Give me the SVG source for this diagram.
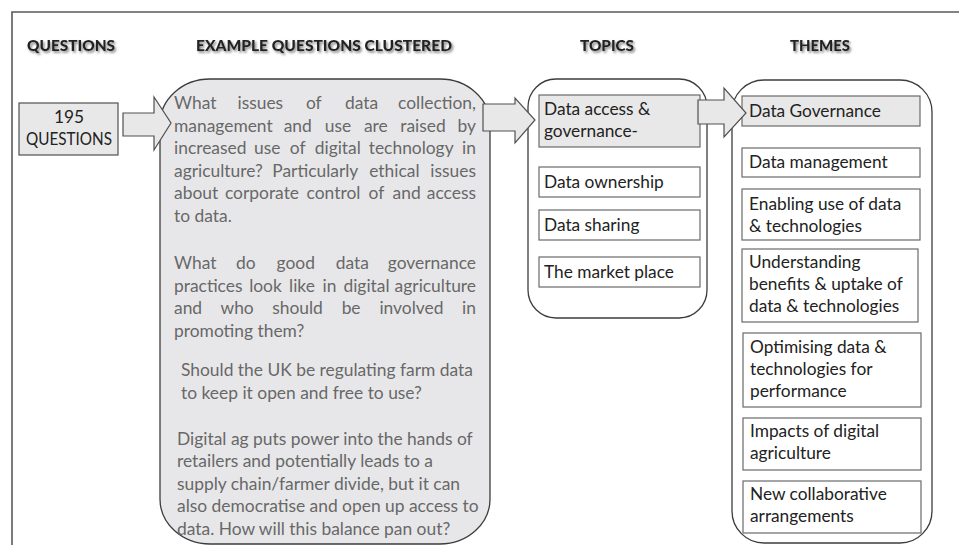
<svg xmlns="http://www.w3.org/2000/svg" width="959" height="545" viewBox="0 0 959 545">
<defs>
<style>
.hdr{font-family:Lato,"Liberation Sans",sans-serif;font-weight:900;font-size:15.8px;fill:#222;filter:url(#sh)}
.q{font-family:Lato,"Liberation Sans",sans-serif;font-size:17.4px;fill:#686868}
.t{font-family:Lato,"Liberation Sans",sans-serif;font-size:17.3px;fill:#222}
.m{text-anchor:middle}
.e{text-anchor:end}
.box{fill:#fff;stroke:#6a6a6a;stroke-width:1.2}
.gbox{fill:#e8e8e8;stroke:#6a6a6a;stroke-width:1.2}
.cont{fill:#fff;stroke:#3c3c3c;stroke-width:1.3}
.arr{fill:#e8e8e8;stroke:#505050;stroke-width:1.2;stroke-linejoin:miter}
</style>
<filter id="sh" x="-10%" y="-30%" width="130%" height="180%">
<feDropShadow dx="1.5" dy="1.8" stdDeviation="1" flood-color="#6a6a6a" flood-opacity="0.85"/>
</filter>
</defs>
<rect width="959" height="545" fill="#fff"/>
<path d="M12,545 V12 H959" fill="none" stroke="#5a5a5a" stroke-width="1.6"/>

<g id="headers">
<text class="hdr" x="27" y="51" textLength="88" lengthAdjust="spacingAndGlyphs">QUESTIONS</text>
<text class="hdr" x="196" y="51" textLength="256" lengthAdjust="spacingAndGlyphs">EXAMPLE QUESTIONS CLUSTERED</text>
<text class="hdr" x="580" y="51" textLength="54" lengthAdjust="spacingAndGlyphs">TOPICS</text>
<text class="hdr" x="790" y="51" textLength="60" lengthAdjust="spacingAndGlyphs">THEMES</text>
</g>

<g id="node-questions">
<rect class="gbox" x="19" y="103" width="99" height="52" style="stroke:#505050"/>
<text class="t m" x="69" y="123">195</text>
<text class="t m" x="69" y="145" textLength="86" lengthAdjust="spacingAndGlyphs">QUESTIONS</text>
</g>

<g id="node-examples">
<rect x="160" y="79" width="330" height="465" rx="50" ry="45" fill="#e7e7e9" stroke="#3c3c3c" stroke-width="1.3"/>
<g class="q">
<text x="174" y="109">What</text>
<text class="m" x="260.3" y="109">issues</text>
<text class="m" x="313.8" y="109">of</text>
<text class="m" x="361.5" y="109">data</text>
<text class="e" x="476" y="109">collection,</text>

<text x="174" y="131.5">management</text>
<text class="m" x="297.7" y="131.5">and</text>
<text class="m" x="337.9" y="131.5">use</text>
<text class="m" x="375.8" y="131.5">are</text>
<text class="m" x="423" y="131.5">raised</text>
<text class="e" x="476" y="131.5">by</text>

<text x="174" y="154">increased</text>
<text class="m" x="267.2" y="154">use</text>
<text class="m" x="297.7" y="154">of</text>
<text class="m" x="337.8" y="154">digital</text>
<text class="m" x="411.2" y="154">technology</text>
<text class="e" x="476" y="154">in</text>

<text x="174" y="176.5">agriculture?</text>
<text class="m" x="315.3" y="176.5">Particularly</text>
<text class="m" x="394.4" y="176.5">ethical</text>
<text class="e" x="476" y="176.5">issues</text>

<text x="174" y="199">about</text>
<text class="m" x="262" y="199">corporate</text>
<text class="m" x="333.5" y="199">control</text>
<text class="m" x="376.4" y="199">of</text>
<text class="m" x="406.6" y="199">and</text>
<text class="e" x="476" y="199">access</text>

<text x="174" y="221.5">to data.</text>

<text x="174" y="269">What</text>
<text class="m" x="245.8" y="269">do</text>
<text class="m" x="295.8" y="269">good</text>
<text class="m" x="352.4" y="269">data</text>
<text class="e" x="476" y="269">governance</text>

<text x="174" y="291.5">practices</text>
<text class="m" x="265.5" y="291.5">look</text>
<text class="m" x="302" y="291.5">like</text>
<text class="m" x="329.5" y="291.5">in</text>
<text class="m" x="366.5" y="291.5">digital</text>
<text class="e" x="476" y="291.5">agriculture</text>

<text x="174" y="314">and</text>
<text class="m" x="237.1" y="314">who</text>
<text class="m" x="297.5" y="314">should</text>
<text class="m" x="351.1" y="314">be</text>
<text class="m" x="411.4" y="314">involved</text>
<text class="e" x="476" y="314">in</text>

<text x="174" y="336.5">promoting them?</text>

<text x="181" y="376">Should the UK be regulating farm data</text>
<text x="181" y="398.5">to keep it open and free to use?</text>

<text x="177" y="444.5">Digital ag puts power into the hands of</text>
<text x="177" y="467">retailers and potentially leads to a</text>
<text x="177" y="489.5">supply chain/farmer divide, but it can</text>
<text x="177" y="512">also democratise and open up access to</text>
<text x="177" y="534.5">data. How will this balance pan out?</text>
</g>
</g>

<g id="node-topics">
<rect class="cont" x="528" y="79" width="179" height="239" rx="28" ry="28"/>
<g id="topic-access">
<rect class="gbox" x="539" y="95" width="161" height="52"/>
<text class="t" x="544" y="115">Data access &amp;</text>
<text class="t" x="544" y="137">governance-</text>
</g>
<g id="topic-ownership">
<rect class="box" x="539" y="167" width="161" height="30"/>
<text class="t" x="544" y="188">Data ownership</text>
</g>
<g id="topic-sharing">
<rect class="box" x="539" y="210" width="161" height="30"/>
<text class="t" x="544" y="231">Data sharing</text>
</g>
<g id="topic-market">
<rect class="box" x="539" y="257" width="161" height="30"/>
<text class="t" x="544" y="278">The market place</text>
</g>
</g>

<g id="node-themes">
<rect class="cont" x="732" y="80" width="200" height="463" rx="32" ry="32"/>
<g id="theme-governance">
<rect class="gbox" x="742" y="96" width="178" height="30"/>
<text class="t" x="749" y="117">Data Governance</text>
</g>
<g id="theme-management">
<rect class="box" x="742" y="148" width="178" height="29"/>
<text class="t" x="749" y="168">Data management</text>
</g>
<g id="theme-enabling">
<rect class="box" x="742" y="189" width="178" height="51"/>
<text class="t" x="749" y="210">Enabling use of data</text>
<text class="t" x="749" y="232">&amp; technologies</text>
</g>
<g id="theme-understanding">
<rect class="box" x="742" y="249" width="176" height="73"/>
<text class="t" x="749" y="268">Understanding</text>
<text class="t" x="749" y="290">benefits &amp; uptake of</text>
<text class="t" x="749" y="312">data &amp; technologies</text>
</g>
<g id="theme-optimising">
<rect class="box" x="743" y="333" width="178" height="74"/>
<text class="t" x="750" y="353">Optimising data &amp;</text>
<text class="t" x="750" y="375">technologies for</text>
<text class="t" x="750" y="397">performance</text>
</g>
<g id="theme-impacts">
<rect class="box" x="743" y="418" width="178" height="52"/>
<text class="t" x="750" y="437">Impacts of digital</text>
<text class="t" x="750" y="459">agriculture</text>
</g>
<g id="theme-collab">
<rect class="box" x="743" y="481" width="178" height="52"/>
<text class="t" x="750" y="500">New collaborative</text>
<text class="t" x="750" y="522">arrangements</text>
</g>
</g>

<g id="connectors">
<path class="arr" d="M123,113 H154 V97 L171,123 L154,150 V136 H123 Z"/>
<path class="arr" d="M483,104 H515 V98 L535,120 L515,143 V131 H483 Z"/>
<path class="arr" d="M698,100 H724 V88 L746,113 L724,137 V124 H698 Z"/>
</g>
</svg>
